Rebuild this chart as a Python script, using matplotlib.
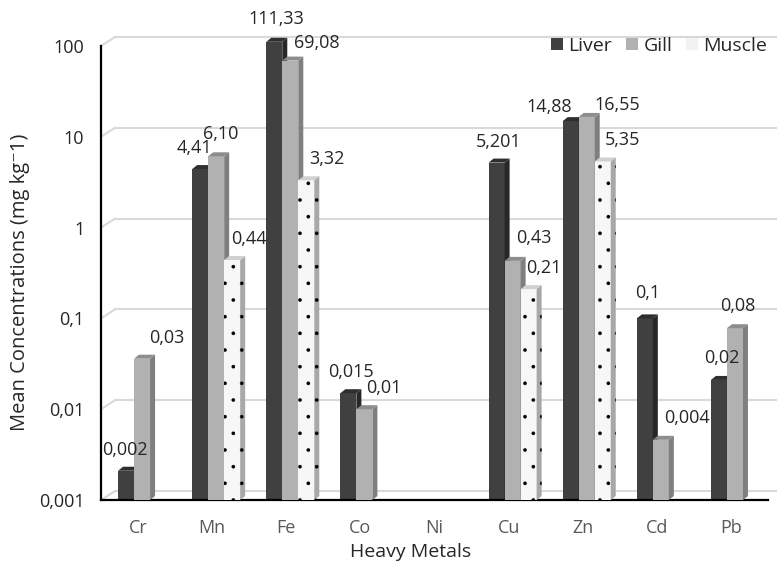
import numpy as np
import matplotlib.pyplot as plt
from matplotlib.patches import Polygon, Patch

plt.rcParams['font.family'] = ['Open Sans', 'DejaVu Sans']
plt.rcParams['hatch.linewidth'] = 0.2

nan = np.nan
metals = ['Cr', 'Mn', 'Fe', 'Co', 'Ni', 'Cu', 'Zn', 'Cd', 'Pb']
liver = [0.0021, 4.41, 111.33, 0.015, nan, 5.201, 14.88, 0.1, 0.021]
gill = [0.036, 6.10, 69.08, 0.01, nan, 0.43, 16.55, 0.0046, 0.078]
muscle = [nan, 0.44, 3.32, nan, nan, 0.21, 5.35, nan, nan]
liver_lbl = ['0,002', '4,41', '111,33', '0,015', '', '5,201', '14,88', '0,1', '0,02']
gill_lbl = ['0,03', '6,10', '69,08', '0,01', '', '0,43', '16,55', '0,004', '0,08']
muscle_lbl = ['', '0,44', '3,32', '', '', '0,21', '5,35', '', '']
yticks = [0.001, 0.01, 0.1, 1, 10, 100]
ytick_lbl = ['0,001', '0,01', '0,1', '1', '10', '100']

# label offsets in pixels (dx, dy) from the top of the front face
liver_off = [(-4, 21), (-8, 21), (0, 23), (0, 21), (0, 0), (0, 21), (-24, 14), (0, 25), (0, 22)]
gill_off = [(22, 21), (2, 22), (24, 18), (17, 21), (0, 0), (19, 23), (28, 12), (24, 22), (0, 22)]
muscle_off = [(0, 0), (14, 21), (18, 21), (0, 0), (0, 0), (13, 21), (17, 21), (0, 0), (0, 0)]

fig = plt.figure(figsize=(7.77, 5.62), dpi=100)
ax = fig.add_axes([101 / 777, 62 / 562, 667 / 777, 472 / 562])
ymin = 0.001
ax.set_yscale('log')
ax.set_xlim(-0.5, 8.5)
ax.set_ylim(ymin, 10 ** (2 + 18 / 90.8))

# 3d look
w = 0.216
dx = 5 / 74.1
k = 10 ** (4 / 90.8)
gdx = 14 / 74.1
gk = 10 ** (9 / 90.8)

for yt in yticks:
    ax.plot([-0.5, -0.5 + gdx], [yt, yt * gk], color='#d9d9d9', lw=1.5, zorder=0, clip_on=False)
    ax.plot([-0.5 + gdx, 8.63], [yt * gk, yt * gk], color='#d9d9d9', lw=1.5, zorder=0, clip_on=False)

series = [
    (liver, liver_lbl, liver_off, '#404040', '#272727', '#2e2e2e', None),
    (gill, gill_lbl, gill_off, '#b1b1b1', '#7f7f7f', '#8d8d8d', None),
    (muscle, muscle_lbl, muscle_off, '#f7f7f7', '#a8a8a8', '#d0d0d0', '.'),
]

for s, (vals, lbls, offs, front, side, top, hatch) in enumerate(series):
    pos = np.arange(len(metals)) + (s - 1) * w + 0.054
    z = 2 + s
    for i, v in enumerate(vals):
        if np.isnan(v):
            continue
        x0 = pos[i] - w / 2
        x1 = pos[i] + w / 2
        ax.bar(pos[i], v - ymin, bottom=ymin, width=w, color=front, hatch=hatch,
               edgecolor='black', linewidth=0, zorder=z)
        ax.add_patch(Polygon([(x1, ymin), (x1, v), (x1 + dx, v * k), (x1 + dx, ymin * k)],
                             closed=True, facecolor=side, edgecolor='black', linewidth=0,
                             hatch=hatch, zorder=z))
        ax.add_patch(Polygon([(x0, v), (x1, v), (x1 + dx, v * k), (x0 + dx, v * k)],
                             closed=True, facecolor=top, linewidth=0, zorder=z))
        ax.annotate(lbls[i], (pos[i] + dx / 2, v), xytext=offs[i], textcoords='offset pixels',
                    ha='center', va='center', fontsize=13, color='#262626', zorder=10)

for sp in ['top', 'right']:
    ax.spines[sp].set_visible(False)
ax.spines['left'].set_bounds(ymin, 100)
ax.spines['left'].set_linewidth(1.6)
ax.spines['bottom'].set_linewidth(1.6)
ax.set_facecolor('none')

ax.set_yticks(yticks)
ax.set_yticklabels(ytick_lbl)
ax.minorticks_off()
ax.set_xticks(range(len(metals)))
ax.set_xticklabels(metals)
ax.tick_params(axis='y', length=0, pad=12, labelsize=13, labelcolor='#262626')
ax.tick_params(axis='x', length=0, pad=14, labelsize=13, labelcolor='#595959')

fig.text(20 / 777, 1 - 282 / 562, 'Mean Concentrations (mg kg\u207b1)', rotation=90,
         ha='center', va='center', fontsize=14.5, color='#262626')
fig.text(411 / 777, 1 - 552 / 562, 'Heavy Metals', ha='center', va='center',
         fontsize=14, color='#262626')

handles = [Patch(facecolor='#404040'), Patch(facecolor='#b1b1b1'),
           Patch(facecolor='#f2f2f2', linewidth=0)]
fig.legend(handles, ['Liver', 'Gill', 'Muscle'], loc='center right',
           bbox_to_anchor=(1.0, 1 - 46 / 562), ncol=3, frameon=False, fontsize=14,
           handlelength=0.6, handleheight=0.6, handletextpad=0.3, columnspacing=0.7,
           labelcolor='#262626', borderaxespad=0.1)

fig.savefig('out.png', dpi=100)
